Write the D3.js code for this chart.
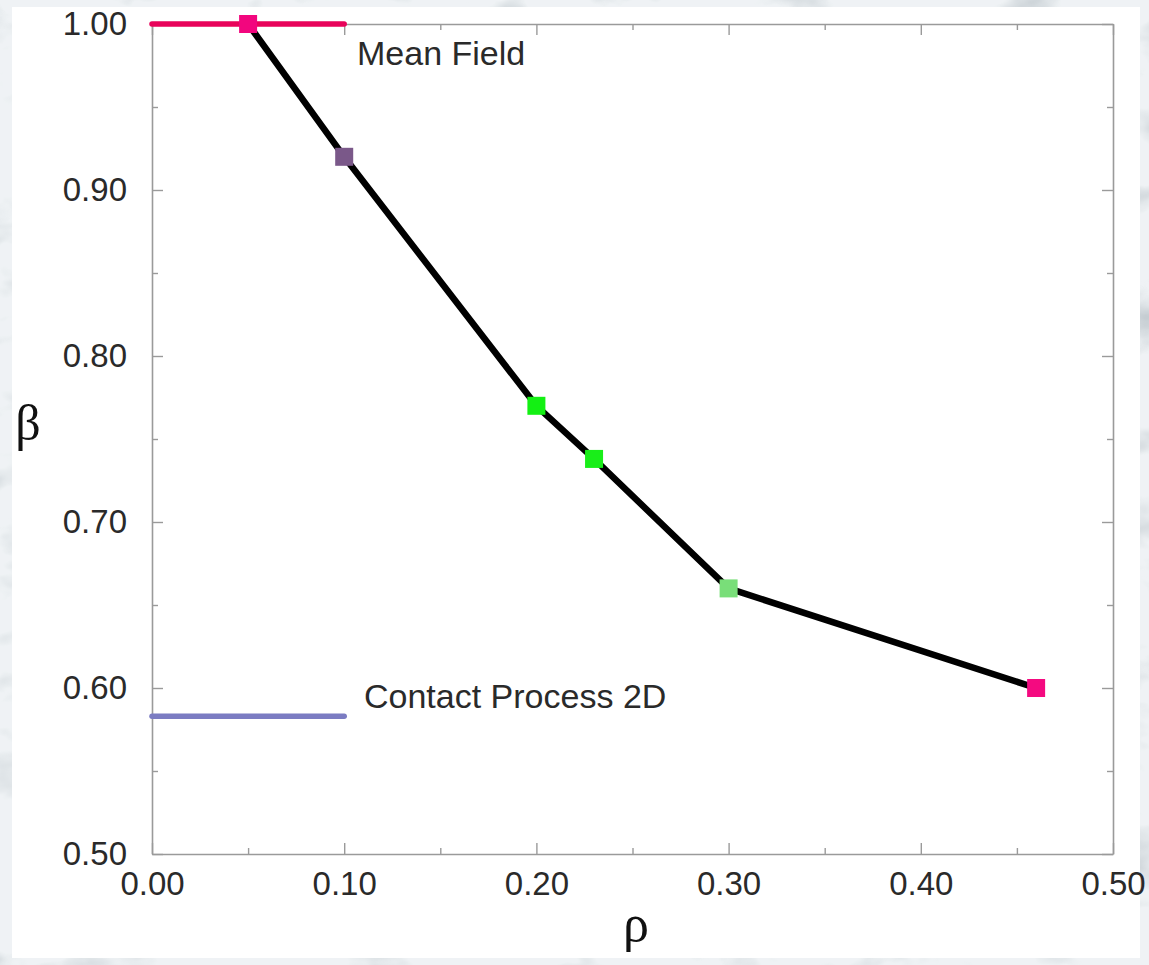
<!DOCTYPE html>
<html>
<head>
<meta charset="utf-8">
<script src="https://cdn.jsdelivr.net/npm/d3@7"></script>
<style>
  html, body { margin: 0; padding: 0; background: #cfd6db; }
  svg { display: block; }
</style>
</head>
<body>
<svg id="chart" width="1149" height="965"></svg>
<script>
// Exponent beta versus density rho
const rhoValues  = [0.05, 0.10, 0.20, 0.23, 0.30, 0.46];
const betaValues = [1.00, 0.92, 0.77, 0.738, 0.66, 0.60];
const pointColors = ["#f2067e", "#7a5889", "#13f013", "#19ee19", "#79de79", "#f40a80"];

// Reference exponents drawn as short horizontal segments
const refNames = ["Mean Field", "Contact Process 2D"];
const refBeta  = [1.00, 0.583];
const refColors = ["#e8035a", "#7b7cc2"];
const refRhoSpan = [0.00, 0.10];

const xTickValues = [0.00, 0.10, 0.20, 0.30, 0.40, 0.50];
const yTickValues = [0.50, 0.60, 0.70, 0.80, 0.90, 1.00];

const svg = d3.select("#chart");
const W = 1149, H = 965;

// marbled backdrop
const defs = svg.append("defs");
const f = defs.append("filter").attr("id", "marble")
  .attr("x", 0).attr("y", 0).attr("width", "100%").attr("height", "100%");
f.append("feTurbulence").attr("type", "fractalNoise")
  .attr("baseFrequency", "0.012 0.02").attr("numOctaves", 4).attr("seed", 7).attr("result", "n");
f.append("feColorMatrix").attr("in", "n").attr("type", "matrix")
  .attr("values", "0 0 0 0 0.86  0 0 0 0 0.89  0 0 0 0 0.91  1.1 1.1 1.1 0 -0.6");
svg.append("rect").attr("width", W).attr("height", H).attr("fill", "#b8c1c7");
svg.append("rect").attr("width", W).attr("height", H).attr("filter", "url(#marble)");

// white panel
svg.append("rect").attr("x", 12).attr("y", 7).attr("width", 1128).attr("height", 951).attr("fill", "#ffffff");

const x = d3.scaleLinear().domain([0, 0.5]).range([152, 1113]);
const y = d3.scaleLinear().domain([0.5, 1.0]).range([854, 24]);

const axisColor = "#9a9a9a";
const fontFam = "'Liberation Sans', Arial, sans-serif";
const labelSize = 33;

const minorX = d3.range(0.05, 0.5, 0.1);
const minorY = d3.range(0.55, 1.0, 0.1);

function styleAxis(g) {
  g.select(".domain").attr("stroke", axisColor).attr("stroke-width", 1.6);
  g.selectAll(".tick line").attr("stroke", axisColor).attr("stroke-width", 1.4);
  g.selectAll("text").attr("fill", "#2a2a2a").attr("font-family", fontFam).attr("font-size", labelSize);
}

// bottom axis with labels
const gx = svg.append("g").attr("transform", `translate(0,${y(0.5)})`)
  .call(d3.axisBottom(x).tickValues(xTickValues).tickFormat(d3.format(".2f"))
    .tickSizeInner(-11).tickSizeOuter(0).tickPadding(18));
styleAxis(gx);
svg.append("g").attr("transform", `translate(0,${y(0.5)})`)
  .call(d3.axisBottom(x).tickValues(minorX).tickFormat("").tickSizeInner(-6).tickSizeOuter(0))
  .call(styleAxis).select(".domain").remove();

// top mirror axis
const gt = svg.append("g").attr("transform", `translate(0,${y(1.0)})`)
  .call(d3.axisTop(x).tickValues(xTickValues).tickFormat("").tickSizeInner(-11).tickSizeOuter(0));
styleAxis(gt);
svg.append("g").attr("transform", `translate(0,${y(1.0)})`)
  .call(d3.axisTop(x).tickValues(minorX).tickFormat("").tickSizeInner(-6).tickSizeOuter(0))
  .call(styleAxis).select(".domain").remove();

// left axis with labels
const gy = svg.append("g").attr("transform", `translate(${x(0)},0)`)
  .call(d3.axisLeft(y).tickValues(yTickValues).tickFormat(d3.format(".2f"))
    .tickSizeInner(-11).tickSizeOuter(0).tickPadding(25));
styleAxis(gy);
svg.append("g").attr("transform", `translate(${x(0)},0)`)
  .call(d3.axisLeft(y).tickValues(minorY).tickFormat("").tickSizeInner(-6).tickSizeOuter(0))
  .call(styleAxis).select(".domain").remove();

// right mirror axis
const gr = svg.append("g").attr("transform", `translate(${x(0.5)},0)`)
  .call(d3.axisRight(y).tickValues(yTickValues).tickFormat("").tickSizeInner(-11).tickSizeOuter(0));
styleAxis(gr);
svg.append("g").attr("transform", `translate(${x(0.5)},0)`)
  .call(d3.axisRight(y).tickValues(minorY).tickFormat("").tickSizeInner(-6).tickSizeOuter(0))
  .call(styleAxis).select(".domain").remove();

// axis titles
svg.append("text").attr("x", 28).attr("y", 440).attr("text-anchor", "middle")
  .attr("font-family", "'Liberation Serif', 'DejaVu Serif', serif").attr("font-size", 50)
  .attr("fill", "#111").text("β");
svg.append("text").attr("x", 636).attr("y", 941).attr("text-anchor", "middle")
  .attr("font-family", "'Liberation Serif', 'DejaVu Serif', serif").attr("font-size", 52)
  .attr("fill", "#111").text("ρ");

// reference segments
refBeta.forEach((b, i) => {
  svg.append("line")
    .attr("x1", x(refRhoSpan[0])).attr("x2", x(refRhoSpan[1]))
    .attr("y1", y(b)).attr("y2", y(b))
    .attr("stroke", refColors[i]).attr("stroke-width", 5.5).attr("stroke-linecap", "round");
});
svg.append("text").attr("x", 357).attr("y", 65)
  .attr("font-family", fontFam).attr("font-size", 34).attr("fill", "#2a2a2a").text(refNames[0]);
svg.append("text").attr("x", 364).attr("y", 708)
  .attr("font-family", fontFam).attr("font-size", 34).attr("fill", "#2a2a2a").text(refNames[1]);

// data curve
const pts = rhoValues.map((r, i) => ({ r, b: betaValues[i], c: pointColors[i] }));
svg.append("path").datum(pts)
  .attr("fill", "none").attr("stroke", "#000").attr("stroke-width", 6.5).attr("stroke-linejoin", "round")
  .attr("d", d3.line().x(d => x(d.r)).y(d => y(d.b)));

const s = 18;
svg.selectAll("rect.pt").data(pts).enter().append("rect").attr("class", "pt")
  .attr("x", d => x(d.r) - s / 2).attr("y", d => y(d.b) - s / 2)
  .attr("width", s).attr("height", s).attr("fill", d => d.c);
</script>
</body>
</html>
